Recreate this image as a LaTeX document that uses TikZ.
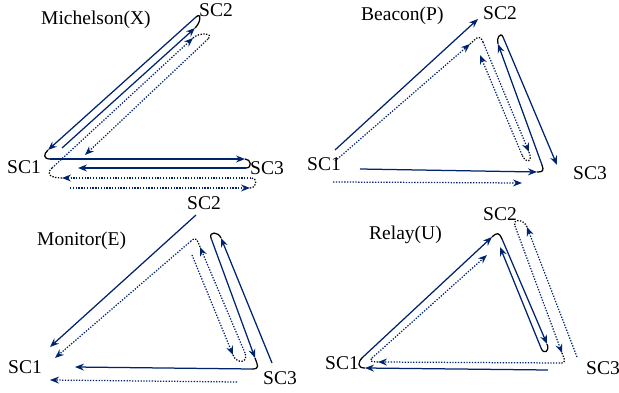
\documentclass[tikz,border=0pt]{standalone}
\usepackage{fontspec}
\setmainfont{Liberation Serif}
\usepackage{tikz}
\usetikzlibrary{arrows.meta}
\definecolor{beam}{RGB}{0,35,110}

\begin{document}
\begin{tikzpicture}[x=1pt,y=-1pt,
    font=\fontsize{19.5}{22}\selectfont,
    lbl/.style={anchor=base west,inner sep=0pt},
    ray/.style={beam,line width=1.25pt,-{Stealth[length=9pt,width=7pt,inset=3pt]}},
    dray/.style={ray,dash pattern=on 1.3pt off 1.5pt},
    turn/.style={black,line width=1.25pt},
    dturn/.style={turn,dash pattern=on 1.3pt off 1.5pt}]
  \useasboundingbox (0,0) rectangle (619,393);

  % labels
  \foreach \nm/\x/\y/\txt in {mtitle/41/25/Michelson(X), mscone/7/174/SC1, msctwo/199/17/SC2, mscthree/250/175/SC3,
      btitle/361/21/Beacon(P), bscone/307/171/SC1, bsctwo/483/20/SC2, bscthree/573/180/SC3,
      etitle/37/245/Monitor(E), escone/8/373/SC1, esctwo/187/210/SC2, escthree/263/384/SC3,
      rtitle/369/240/Relay(U), rscone/325/369/SC1, rsctwo/483/221/SC2, rscthree/586/374/SC3}
    \node[lbl] (\nm) at (\x,\y) {\txt};

  % Michelson
  \draw[ray] (62,148) -- (195,28);
  \draw[turn] (195,28) to[out=42,in=42,looseness=1.8] (196,17);
  \draw[ray] (196,17) -- (48,150);
  \draw[turn] (48,150) to[out=222,in=180,looseness=1.8] (50,159);
  \draw[ray] (50,159) -- (245,159);
  \draw[turn] (245,159) to[out=0,in=0,looseness=1.8] (246,168);
  \draw[ray] (246,168) -- (78,168);
  \draw[dray] (70,188) -- (250,188);
  \draw[dturn] (250,188) to[out=0,in=0,looseness=1.8] (251,178);
  \draw[dray] (251,178) -- (62,178);
  \draw[dturn] (62,178) to[out=180,in=222,looseness=1.8] (52,168);
  \draw[dray] (52,168) -- (193,38);
  \draw[dturn] (193,38) to[out=43,in=43,looseness=1.5] (208,39);
  \draw[dray] (208,39) -- (85,155);

  % Beacon
  \draw[ray] (335,150) -- (478,19);
  \draw[ray] (360,169) -- (537,172);
  \draw[turn] (537,172) to[out=-1,in=-70,looseness=1.8] (542,165);
  \draw[ray] (542,165) -- (498,44);
  \draw[turn] (498,44) to[out=110,in=113,looseness=1.8] (503,37);
  \draw[ray] (503,37) -- (557,165);
  \draw[dray] (333,182) -- (522,183);
  \draw[dray] (335,161) -- (470,44);
  \draw[dturn] (470,44) to[out=41,in=113,looseness=1.8] (483,42);
  \draw[dray] (483,42) -- (529,152);
  \draw[dturn] (529,152) to[out=-67,in=-66,looseness=3.5] (522,155);
  \draw[dray] (522,155) -- (480,55);

  % Monitor
  \draw[ray] (196,215) -- (50,347);
  \draw[ray] (272,363) -- (221,238);
  \draw[turn] (221,238) to[out=112,in=110,looseness=1.8] (211,238);
  \draw[ray] (211,238) -- (255,358);
  \draw[turn] (255,358) to[out=-70,in=0,looseness=1.8] (252,369);
  \draw[ray] (252,369) -- (75,367);
  \draw[dray] (192,255) -- (233,355);
  \draw[dturn] (233,355) to[out=-68,in=-67,looseness=2.2] (245,353);
  \draw[dray] (245,353) -- (200,247);
  \draw[dturn] (200,247) to[out=113,in=41,looseness=1.8] (191,241);
  \draw[dray] (191,241) -- (55,358);
  \draw[dray] (237,382) -- (50,380);

  % Relay
  \draw[ray] (548,370) -- (365,368);
  \draw[turn] (365,368) to[out=181,in=223,looseness=1.8] (363,357);
  \draw[ray] (363,357) -- (492,237);
  \draw[turn] (492,237) to[out=43,in=114,looseness=1.8] (502,239);
  \draw[ray] (502,239) -- (547,344);
  \draw[turn] (547,344) to[out=-67,in=-68,looseness=2.8] (541,348);
  \draw[ray] (541,348) -- (500,247);
  \draw[dray] (577,357) -- (527,227);
  \draw[dturn] (527,227) to[out=111,in=110,looseness=1.8] (515,226);
  \draw[dray] (515,226) -- (562,353);
  \draw[dturn] (562,353) to[out=-70,in=0,looseness=1.8] (560,363);
  \draw[dray] (560,363) -- (378,362);
  \draw[dturn] (378,362) to[out=180,in=222,looseness=1.8] (372,358);
  \draw[dray] (372,358) -- (487,255);
\end{tikzpicture}
\end{document}
